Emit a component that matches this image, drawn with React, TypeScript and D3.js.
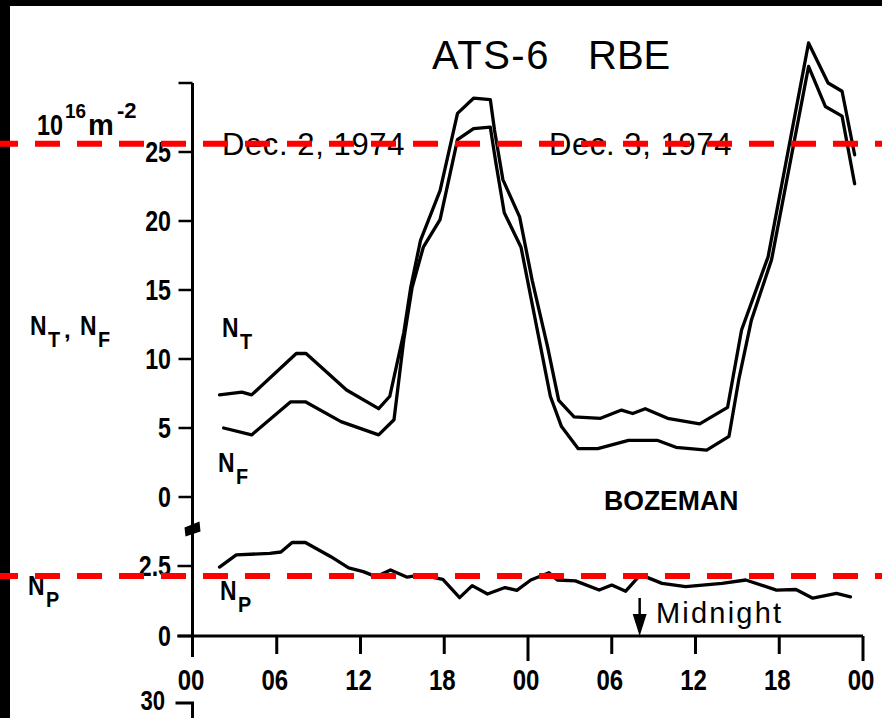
import React from "react";
import * as d3 from "d3";

// ---------- data ----------
const hourTicks = [0, 6, 12, 18, 24, 30, 36, 42, 48];
const hourTickLabels = ["00", "06", "12", "18", "00", "06", "12", "18", "00"];
const dayBoundaryHours = [0, 24, 48];

const upperTicks = [0, 5, 10, 15, 20, 25, 30];
const upperTickLabels = ["0", "5", "10", "15", "20", "25", ""];
const lowerTicks = [0, 2.5];
const lowerTickLabels = ["0", "2.5"];

// N_T (total electron content), hours UT from 00 Dec 2, 1974
const ntHours = [1.9, 3.5, 4.2, 7.4, 8.1, 11.0, 13.3, 14.1, 15.1, 15.6, 16.3, 17.7, 18.95, 20.1, 21.3, 21.6, 22.2, 23.4, 24.3, 25.4, 26.2, 27.3, 29.2, 30.7, 31.5, 32.4, 34.0, 36.3, 38.3, 39.3, 41.2, 44.1, 45.5, 46.5, 47.4];
const ntValues = [7.4, 7.6, 7.4, 10.4, 10.4, 7.75, 6.4, 7.3, 11.9, 15.2, 18.6, 22.2, 27.8, 28.9, 28.8, 26.6, 23.0, 20.3, 15.7, 10.9, 7.0, 5.8, 5.7, 6.3, 6.05, 6.4, 5.7, 5.3, 6.5, 12.1, 17.4, 32.9, 30.0, 29.4, 24.8];

// N_F (Faraday content)
const nfHours = [2.2, 4.2, 7.0, 8.05, 10.6, 13.3, 14.4, 15.1, 15.7, 16.5, 17.7, 18.95, 20.1, 21.3, 21.7, 22.3, 23.5, 24.9, 25.6, 26.4, 27.6, 29.0, 31.2, 33.3, 34.6, 36.8, 38.4, 39.1, 40.0, 41.45, 44.1, 45.3, 46.5, 47.4];
const nfValues = [5.0, 4.5, 6.9, 6.9, 5.46, 4.5, 5.6, 11.4, 15.2, 18.1, 20.1, 25.9, 26.7, 26.8, 24.2, 20.6, 18.1, 10.9, 7.3, 5.1, 3.5, 3.5, 4.1, 4.1, 3.6, 3.4, 4.4, 8.5, 12.8, 17.2, 31.2, 28.3, 27.6, 22.7];

// N_P (plasmaspheric content)
const npHours = [1.9, 3.1, 5.5, 6.3, 7.1, 8.05, 9.85, 11.15, 12.2, 13.1, 14.15, 15.35, 16.3, 17.9, 19.1, 20.0, 21.1, 22.35, 23.2, 24.2, 25.5, 26.1, 27.4, 29.1, 30.0, 31.0, 31.9, 32.4, 33.6, 35.3, 37.9, 39.6, 41.8, 43.2, 44.4, 46.1, 47.1];
const npValues = [2.46, 2.9, 2.95, 3.0, 3.34, 3.34, 2.84, 2.43, 2.3, 2.12, 2.36, 2.1, 2.18, 2.02, 1.37, 1.8, 1.5, 1.73, 1.63, 2.0, 2.26, 2.0, 1.97, 1.64, 1.82, 1.6, 2.1, 2.12, 1.88, 1.76, 1.88, 2.0, 1.64, 1.66, 1.35, 1.52, 1.4];

const refUpperValue = 25.6;
const refLowerValue = 2.14;
const midnightHour = 32;
const breakValue = 3.8;

// ---------- helpers ----------
const FONT = "'Liberation Sans', Arial, Helvetica, sans-serif";

function CText(props: {
  x: number; y: number; size: number; anchor?: string; weight?: string | number;
  sx?: number; ls?: number; children: React.ReactNode;
}) {
  const { x, y, size, anchor = "start", weight = "bold", sx = 1, ls = 0, children } = props;
  return (
    <text
      transform={`translate(${x},${y}) scale(${sx},1)`}
      textAnchor={anchor as any}
      fontSize={size}
      fontWeight={weight as any}
      letterSpacing={ls}
      fontFamily={FONT}
      fill="#000"
    >
      {children}
    </text>
  );
}

function NLabel({ x, y, sub, big = 27, small = 22 }: { x: number; y: number; sub: string; big?: number; small?: number }) {
  return (
    <g>
      <CText x={x} y={y} size={big} sx={0.85}>N</CText>
      <CText x={x + 18} y={y + 12} size={small} sx={0.9}>{sub}</CText>
    </g>
  );
}

export default function App() {
  const W = 882, H = 718;
  const x = d3.scaleLinear().domain([0, 48]).range([193, 863]);
  const yU = d3.scaleLinear().domain([0, 30]).range([497, 83]);
  const yL = d3.scaleLinear().domain([0, 2.5]).range([636, 566]);

  const lineU = d3.line<[number, number]>()
    .x((d) => x(d[0]))
    .y((d) => yU(d[1]))
    .curve(d3.curveLinear);
  const lineL = d3.line<[number, number]>()
    .x((d) => x(d[0]))
    .y((d) => yL(d[1]))
    .curve(d3.curveLinear);

  const nt = ntHours.map((h, i) => [h, ntValues[i]] as [number, number]);
  const nf = nfHours.map((h, i) => [h, nfValues[i]] as [number, number]);
  const np = npHours.map((h, i) => [h, npValues[i]] as [number, number]);

  const axisX = x(0) - 0.5;
  const x0 = yL(0);
  const mx = x(midnightHour);
  const by = yL(breakValue);

  return (
    <svg
      width={W}
      height={H}
      viewBox={`0 0 ${W} ${H}`}
      style={{ position: "absolute", left: 0, top: 0, display: "block" }}
    >
      <rect x={0} y={0} width={W} height={H} fill="#000" />
      <rect x={10} y={6} width={W - 10} height={H - 6} fill="#fff" />

      {/* title */}
      <CText x={432} y={69} size={40} weight="normal" ls={1.5}>ATS-6</CText>
      <CText x={588} y={69} size={40} weight="normal">RBE</CText>

      {/* unit label */}
      <CText x={37} y={135} size={30} sx={0.78}>10</CText>
      <CText x={65} y={118} size={21} sx={0.9}>16</CText>
      <CText x={88} y={135} size={29}>m</CText>
      <CText x={117} y={118} size={22}>-2</CText>

      {/* date labels */}
      <CText x={222} y={155} size={31} weight="normal" ls={0.6}>Dec. 2, 1974</CText>
      <CText x={549} y={155} size={31} weight="normal" ls={0.6}>Dec. 3, 1974</CText>

      {/* axis labels */}
      <NLabel x={30} y={335} sub="T" />
      <CText x={64} y={338} size={24}>,</CText>
      <NLabel x={80} y={335} sub="F" />
      <NLabel x={28} y={595} sub="P" />

      {/* vertical axis */}
      <line x1={axisX} x2={axisX} y1={yU(30)} y2={x0 + 21} stroke="#000" strokeWidth={3} />
      {upperTicks.map((t, i) => (
        <g key={"u" + i}>
          <line x1={axisX - 14} x2={axisX} y1={yU(t)} y2={yU(t)} stroke="#000" strokeWidth={2.5} />
          <CText x={171} y={yU(t) + 10} size={29} anchor="end" sx={0.8}>{upperTickLabels[i]}</CText>
        </g>
      ))}
      {lowerTicks.map((t, i) => (
        <g key={"l" + i}>
          <line x1={axisX - 15} x2={axisX} y1={yL(t)} y2={yL(t)} stroke="#000" strokeWidth={2.5} />
          <CText x={171} y={yL(t) + 10} size={29} anchor="end" sx={0.8}>{lowerTickLabels[i]}</CText>
        </g>
      ))}
      {/* axis break mark */}
      <path
        d={`M${axisX - 8},${by - 2} L${axisX + 7},${by - 8} L${axisX + 8},${by + 2} L${axisX - 7},${by + 7} Z`}
        fill="#000"
      />

      {/* horizontal axis */}
      <line x1={axisX - 15} x2={x(48)} y1={x0} y2={x0} stroke="#000" strokeWidth={3} />
      {hourTicks.map((h, i) => {
        const long = dayBoundaryHours.includes(h);
        return (
          <g key={"x" + i}>
            {h > 0 && (
              <line x1={x(h)} x2={x(h)} y1={x0} y2={x0 + (long ? 25 : 18)} stroke="#000" strokeWidth={3} />
            )}
            <CText x={x(h) - 2} y={690} size={30} anchor="middle" sx={0.8}>{hourTickLabels[i]}</CText>
          </g>
        );
      })}

      {/* next panel, cut off at the bottom edge */}
      <path d={`M${axisX - 17},703 H${axisX} V${H}`} fill="none" stroke="#000" strokeWidth={3} />
      <CText x={165} y={710} size={27} anchor="end" sx={0.82}>30</CText>

      {/* data curves */}
      <path d={lineU(nt) || ""} fill="none" stroke="#000" strokeWidth={3.3} strokeLinejoin="round" strokeLinecap="round" />
      <path d={lineU(nf) || ""} fill="none" stroke="#000" strokeWidth={3.3} strokeLinejoin="round" strokeLinecap="round" />
      <path d={lineL(np) || ""} fill="none" stroke="#000" strokeWidth={3.3} strokeLinejoin="round" strokeLinecap="round" />

      {/* curve labels */}
      <NLabel x={222} y={337} sub="T" />
      <NLabel x={218} y={472} sub="F" />
      <NLabel x={220} y={600} sub="P" />
      <CText x={604} y={510} size={28} sx={0.95}>BOZEMAN</CText>

      {/* midnight arrow */}
      <line x1={mx} x2={mx} y1={598} y2={626} stroke="#000" strokeWidth={2.5} />
      <path d={`M${mx - 7},${614} L${mx + 7},${614} L${mx},${x0} Z`} fill="#000" />
      <CText x={656} y={623} size={29} weight="normal" ls={2.2}>Midnight</CText>

      {/* red dashed reference lines */}
      <line x1={0} x2={W} y1={yU(refUpperValue)} y2={yU(refUpperValue)} stroke="#ff0000" strokeWidth={6} strokeDasharray="25 17" strokeDashoffset={7} />
      <line x1={0} x2={W} y1={yL(refLowerValue)} y2={yL(refLowerValue)} stroke="#ff0000" strokeWidth={6} strokeDasharray="25 17" strokeDashoffset={7} />
    </svg>
  );
}
